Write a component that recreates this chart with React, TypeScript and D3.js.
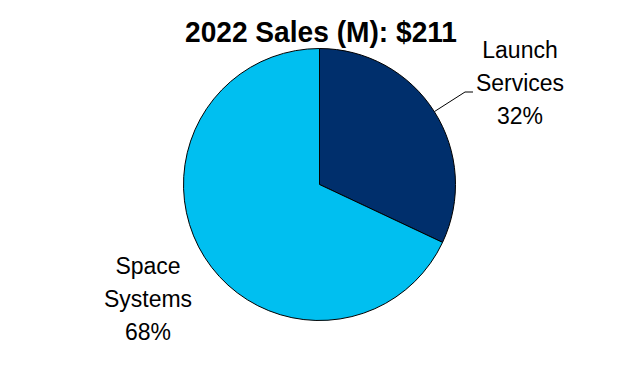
import React from "react";
import * as d3 from "d3";

const categories = ["Launch Services", "Space Systems"];
const values = [32, 68];
const labelLines = [["Launch", "Services", "32%"], ["Space", "Systems", "68%"]];
const title = "2022 Sales (M): $211";
const colors = ["#002F6C", "#00BFF0"];

export default function App() {
  const W = 640, H = 376;
  const cx = 319.5, cy = 184.5, r = 136;
  const pie = d3.pie<number>().sort(null).value((d) => d)(values);
  const arc = d3.arc<d3.PieArcDatum<number>>().innerRadius(0).outerRadius(r);
  const labelPos = [
    { x: 520, y: 58 },
    { x: 148, y: 274 },
  ];
  const lineH = 33;
  const a0 = (pie[0].startAngle + pie[0].endAngle) / 2;
  const p1 = [cx + Math.sin(a0) * r, cy - Math.cos(a0) * r];
  return (
    <svg width={W} height={H} style={{ position: "absolute", left: 0, top: 0, background: "#fff" }}>
      <text x={321} y={42} textAnchor="middle" fontFamily="Liberation Sans, Arial, sans-serif" fontWeight="bold" fontSize={30} textLength={272} lengthAdjust="spacingAndGlyphs" fill="#000">
        {title}
      </text>
      <g transform={`translate(${cx},${cy})`}>
        {pie.map((d, i) => (
          <path key={categories[i]} d={arc(d) || ""} fill={colors[i]} stroke="#000" strokeWidth={1} />
        ))}
      </g>
      <polyline points={`${p1[0]},${p1[1]} 465,92 473,92`} fill="none" stroke="#000" strokeWidth={1} />
      {labelLines.map((lines, i) => (
        <text key={i} textAnchor="middle" fontFamily="Liberation Sans, Arial, sans-serif" fontSize={23} fill="#000">
          {lines.map((t, j) => (
            <tspan key={j} x={labelPos[i].x} y={labelPos[i].y + j * lineH}>{t}</tspan>
          ))}
        </text>
      ))}
    </svg>
  );
}
